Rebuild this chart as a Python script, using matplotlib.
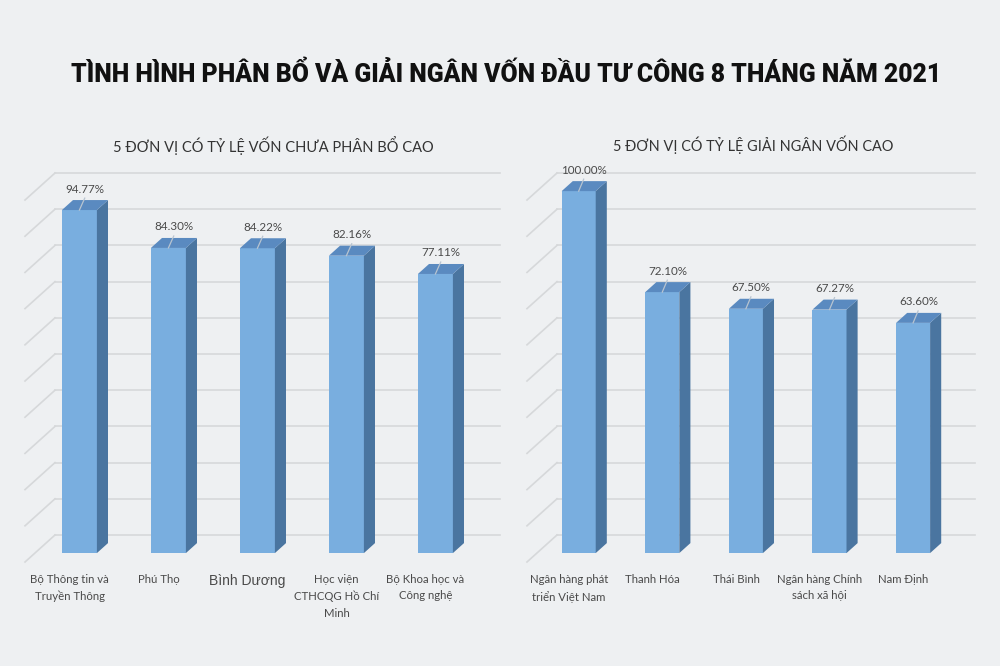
import matplotlib
matplotlib.use('Agg')
import matplotlib.pyplot as plt
from matplotlib.patches import Polygon

plt.rcParams['font.family'] = ['Lato', 'DejaVu Sans']

title = 'TÌNH HÌNH PHÂN BỔ VÀ GIẢI NGÂN VỐN ĐẦU TƯ CÔNG 8 THÁNG NĂM 2021'

left_title = '5 ĐƠN VỊ CÓ TỶ LỆ VỐN CHƯA PHÂN BỔ CAO'
left_cats = ['Bộ Thông tin và\nTruyền Thông', 'Phú Thọ', 'Bình Dương',
             'Học viện\nCTHCQG Hồ Chí\nMinh', 'Bộ Khoa học và\nCông nghệ']
left_vals = [94.77, 84.30, 84.22, 82.16, 77.11]
left_labels = ['94.77%', '84.30%', '84.22%', '82.16%', '77.11%']

right_title = '5 ĐƠN VỊ CÓ TỶ LỆ GIẢI NGÂN VỐN CAO'
right_cats = ['Ngân hàng phát\ntriển Việt Nam', 'Thanh Hóa', 'Thái Bình',
              'Ngân hàng Chính\nsách xã hội', 'Nam Định']
right_vals = [100.00, 72.10, 67.50, 67.27, 63.60]
right_labels = ['100.00%', '72.10%', '67.50%', '67.27%', '63.60%']

bg = '#eef0f2'
front_c = '#79aedf'
top_c = '#5a8ac0'
side_c = '#4a75a0'
grid_c = '#d6d8da'
text_c = '#4a4a4a'

fig = plt.figure(figsize=(10, 6.66), dpi=100, facecolor=bg)
renderer = fig.canvas.get_renderer()


def fit_width(t, width_px):
    # shrink/grow a text so that it spans the same width as in the reference
    w = t.get_window_extent(renderer).width
    t.set_fontsize(t.get_fontsize() * width_px / w)


t = fig.text(0.506, 0.888, title, ha='center', va='center', fontsize=20,
             fontweight='black', color='#111111',
             family=['Roboto', 'DejaVu Sans'])
fit_width(t, 868)


def draw_panel(ax, cats, vals, labels, sub, dx, bw, sub_x, sub_w):
    ax.set_facecolor('none')
    ax.set_xlim(-0.5, 4.5)
    ax.set_ylim(0, 100)
    ax.axis('off')
    dy = -7.46   # full floor depth (towards viewer) in value units
    ff, fb = 0.67, 0.30
    # back wall gridlines + side wall diagonals
    for v in range(0, 101, 10):
        ax.plot([-0.5, 4.5], [v, v], color=grid_c, lw=1.2, zorder=1, clip_on=False)
        ax.plot([-0.5, -0.5 + dx], [v, v + dy], color=grid_c, lw=1.2, zorder=1,
                clip_on=False)
    for i, v in enumerate(vals):
        xf = i + ff * dx
        xb = i + fb * dx
        yf = ff * dy
        yb = fb * dy
        front = Polygon([(xf - bw / 2, yf), (xf + bw / 2, yf),
                         (xf + bw / 2, v + yf), (xf - bw / 2, v + yf)],
                        closed=True, fc=front_c, ec='none', zorder=3, clip_on=False)
        side = Polygon([(xf + bw / 2, yf), (xf + bw / 2, v + yf),
                        (xb + bw / 2, v + yb), (xb + bw / 2, yb)],
                       closed=True, fc=side_c, ec='none', zorder=3, clip_on=False)
        top = Polygon([(xf - bw / 2, v + yf), (xf + bw / 2, v + yf),
                       (xb + bw / 2, v + yb), (xb - bw / 2, v + yb)],
                      closed=True, fc=top_c, ec='none', zorder=3, clip_on=False)
        for p in (front, side, top):
            ax.add_patch(p)
        # leader line and value label
        ax.plot([xf, xf + 0.06], [v + yf, v + yf + 3.3], color='#b8c4d0', lw=0.9,
                zorder=4, clip_on=False)
        ax.text(xf + 0.065, v + yf + 5.8, labels[i], ha='center', va='center',
                fontsize=8.4, color=text_c, zorder=5, clip_on=False)
        # category label at front of floor
        fs = 10 if cats[i] == 'Bình Dương' else 8.2
        fam = ['Liberation Sans', 'DejaVu Sans'] if cats[i] == 'Bình Dương' else ['Lato', 'DejaVu Sans']
        ax.text(i + dx, dy - 3.3, cats[i], ha='center', va='top', fontsize=fs,
                color=text_c, linespacing=1.6, family=fam, clip_on=False)
    st = fig.text(sub_x, 0.782, sub, ha='center', va='center', fontsize=11,
                  color='#333333')
    fit_width(st, sub_w)


ax1 = fig.add_axes([0.055, 0.1967, 0.445, 0.5435])
draw_panel(ax1, left_cats, left_vals, left_labels, left_title, -0.337, 0.393, 0.273, 320)

ax2 = fig.add_axes([0.557, 0.1967, 0.418, 0.5435])
draw_panel(ax2, right_cats, right_vals, right_labels, right_title, -0.359, 0.407, 0.753, 280)

fig.savefig('out.png', dpi=100, facecolor=bg)
